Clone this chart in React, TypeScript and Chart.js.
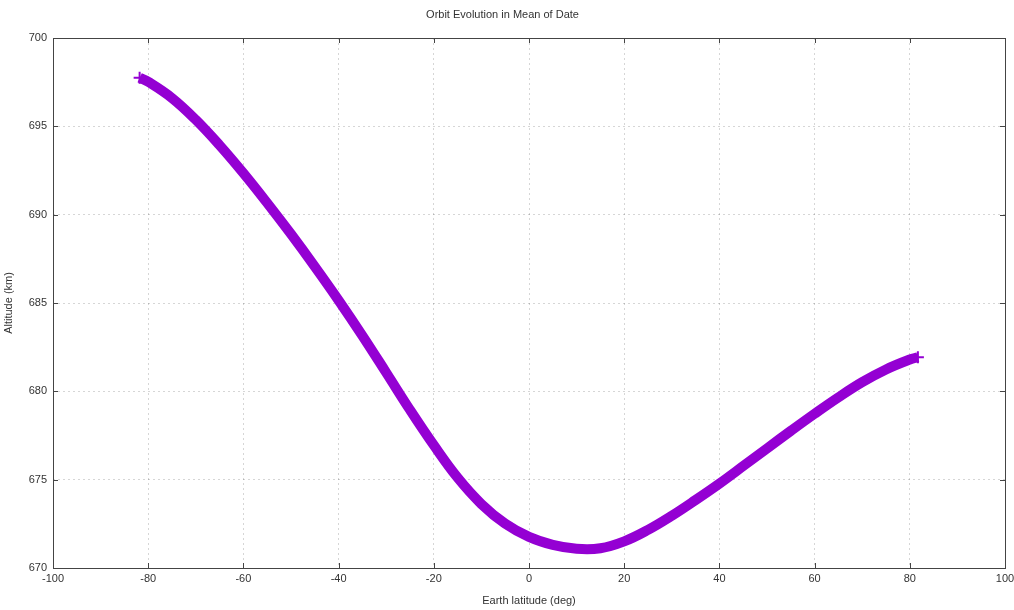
import React, { useEffect, useRef } from "react";
import { Chart, registerables } from "chart.js";

Chart.register(...registerables);

const latitudes = [
  -81.8, -80, -75, -70, -65, -60, -55, -50, -45, -40, -35, -30, -25, -20, -15, -10, -5, 0, 5, 10,
  15, 20, 25, 30, 35, 40, 45, 50, 55, 60, 65, 70, 75, 80, 81.7,
];
const altitudes = [
  697.75, 697.52, 696.6, 695.37, 693.93, 692.35, 690.66, 688.9, 687.06, 685.15, 683.15, 681.06,
  678.95, 676.95, 675.11, 673.62, 672.51, 671.76, 671.31, 671.09, 671.12, 671.51, 672.16, 672.96,
  673.85, 674.78, 675.77, 676.77, 677.76, 678.73, 679.66, 680.52, 681.24, 681.8, 681.93,
];

const titleText = "Orbit Evolution in Mean of Date";
const xTitle = "Earth latitude (deg)";
const yTitle = "Altitude (km)";
const xRange = [-100, 100];
const yRange = [670, 700];

const FONT = "'Liberation Sans', Arial, sans-serif";

const framePlugin = {
  id: "frame",
  afterDraw(chart: any) {
    const { ctx, chartArea } = chart;
    const { left, right, top, bottom } = chartArea;
    ctx.save();
    ctx.strokeStyle = "#444";
    ctx.lineWidth = 1;
    const xs = chart.scales.x;
    const ys = chart.scales.y;
    const len = 5;
    ctx.beginPath();
    xs.ticks.forEach((t: any) => {
      const px = Math.round(xs.getPixelForValue(t.value)) + 0.5;
      ctx.moveTo(px, bottom);
      ctx.lineTo(px, bottom - len);
      ctx.moveTo(px, top);
      ctx.lineTo(px, top + len);
    });
    ys.ticks.forEach((t: any) => {
      const py = Math.round(ys.getPixelForValue(t.value)) + 0.5;
      ctx.moveTo(left, py);
      ctx.lineTo(left + len, py);
      ctx.moveTo(right, py);
      ctx.lineTo(right - len, py);
    });
    ctx.stroke();
    ctx.strokeRect(Math.round(left) + 0.5, Math.round(top) + 0.5, Math.round(right - left), Math.round(bottom - top));
    ctx.restore();
  },
};

export default function App() {
  const ref = useRef<HTMLCanvasElement | null>(null);

  useEffect(() => {
    document.body.style.margin = "0";
    if (!ref.current) return;
    const points = latitudes.map((x, i) => ({ x, y: altitudes[i] }));
    const n = points.length;
    const chart = new Chart(ref.current, {
      type: "line",
      data: {
        datasets: [
          {
            data: points,
            borderColor: "#9400D3",
            backgroundColor: "#9400D3",
            borderWidth: 10,
            tension: 0.4,
            pointStyle: "cross",
            pointRadius: (c: any) => (c.dataIndex === 0 || c.dataIndex === n - 1 ? 6 : 0),
            pointBorderWidth: 2,
            pointHoverRadius: 0,
            fill: false,
          },
        ],
      },
      options: {
        animation: false,
        responsive: false,
        maintainAspectRatio: false,
        layout: { padding: { left: 0, right: 9, top: 0, bottom: 0 } },
        plugins: {
          legend: { display: false },
          tooltip: { enabled: false },
          title: {
            display: true,
            text: titleText,
            color: "#333",
            font: { family: FONT, size: 11, weight: "normal" },
            padding: { top: 8, bottom: 16.8 },
          },
        },
        scales: {
          x: {
            type: "linear",
            min: xRange[0],
            max: xRange[1],
            ticks: {
              stepSize: 20,
              color: "#333",
              font: { family: FONT, size: 11 },
              padding: 4,
              maxRotation: 0,
            },
            grid: {
              color: "rgba(0,0,0,0.16)",
              drawTicks: false,
              lineWidth: 1,
            },
            border: { display: false, dash: [2, 3] },
            title: {
              display: true,
              text: xTitle,
              color: "#333",
              font: { family: FONT, size: 11 },
              padding: { top: 0, bottom: 2 },
            },
            afterFit(scale: any) {
              scale.height = 42;
              scale.paddingLeft = 0;
              scale.paddingRight = 0;
            },
          },
          y: {
            type: "linear",
            min: yRange[0],
            max: yRange[1],
            ticks: {
              stepSize: 5,
              color: "#333",
              font: { family: FONT, size: 11 },
              padding: 6,
            },
            grid: {
              color: "rgba(0,0,0,0.16)",
              drawTicks: false,
              lineWidth: 1,
            },
            border: { display: false, dash: [2, 3] },
            title: {
              display: true,
              text: yTitle,
              color: "#333",
              font: { family: FONT, size: 11 },
              padding: { top: 2, bottom: 0 },
            },
            afterFit(scale: any) {
              scale.width = 53;
            },
          },
        },
      },
      plugins: [framePlugin],
    } as any);
    return () => chart.destroy();
  }, []);

  return (
    <div style={{ position: "absolute", left: 0, top: 0, width: 1014, height: 610, background: "#fff" }}>
      <canvas ref={ref} width={1014} height={610} style={{ width: 1014, height: 610 }} />
    </div>
  );
}
